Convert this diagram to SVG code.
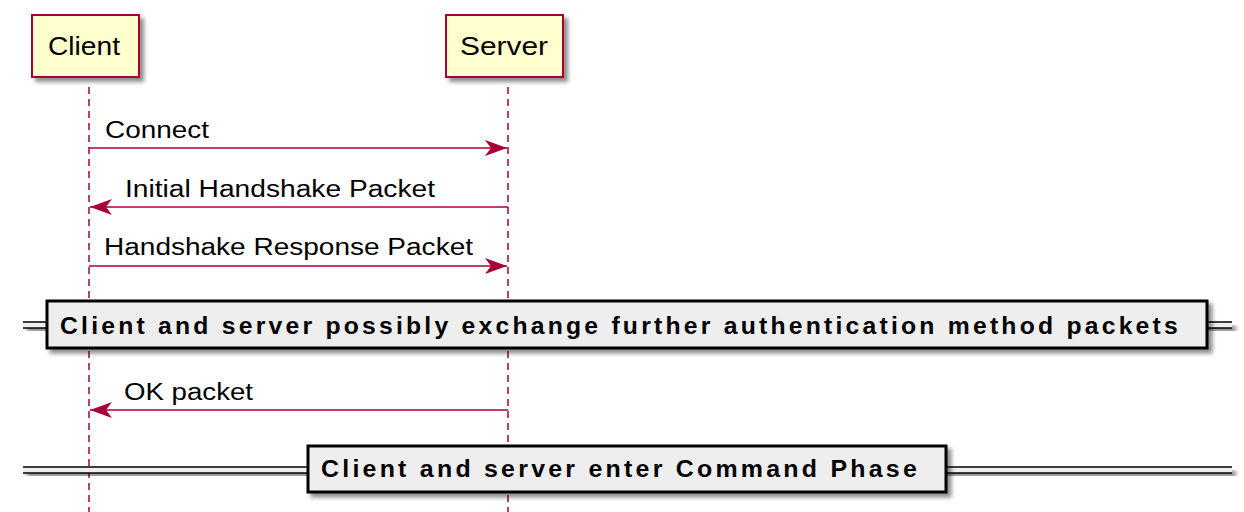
<svg xmlns="http://www.w3.org/2000/svg" width="1244" height="512" viewBox="0 0 1244 512">
<defs>
<filter id="sh" x="-10%" y="-10%" width="130%" height="160%">
<feGaussianBlur in="SourceAlpha" stdDeviation="2.2"/>
<feOffset dx="4" dy="4" result="b"/>
<feComponentTransfer><feFuncA type="linear" slope="0.45"/></feComponentTransfer>
<feMerge><feMergeNode/><feMergeNode in="SourceGraphic"/></feMerge>
</filter>
<marker id="ah" markerUnits="userSpaceOnUse" markerWidth="24" markerHeight="18" refX="22" refY="8" orient="auto">
<path d="M0,0 L22,8 L0,16 L6,8 Z" fill="#A80036"/>
</marker>
</defs>
<style>
.part{fill:#FEFECE;stroke:#A80036;stroke-width:2}
.ptxt{font-family:"Liberation Sans",Arial,sans-serif;font-size:26px;fill:#000}
.life{stroke:#A80036;stroke-width:1.5;stroke-dasharray:7,5;fill:none}
.msg{stroke:#A80036;stroke-width:1.6;fill:none;marker-end:url(#ah)}
.mtxt{font-family:"Liberation Sans",Arial,sans-serif;font-size:23px;fill:#000}
.dbox{fill:#EEEEEE;stroke:#000;stroke-width:3}
.dband{fill:#EEEEEE;stroke:none}
.dline{stroke:#000;stroke-width:1.6}
.dtxt{font-family:"Liberation Sans",Arial,sans-serif;font-size:23px;font-weight:bold;letter-spacing:3px;fill:#000}
</style>
<rect width="1244" height="512" fill="#FFFFFF"/>
<g id="lifelines">
<line class="life" x1="89" y1="87" x2="89" y2="512"/>
<line class="life" x1="508" y1="87" x2="508" y2="512"/>
</g>
<g id="client">
<rect class="part" x="32" y="15" width="107" height="62" filter="url(#sh)"/>
<text class="ptxt" x="48" y="55" textLength="72" lengthAdjust="spacingAndGlyphs">Client</text>
</g>
<g id="server">
<rect class="part" x="446" y="15" width="117" height="62" filter="url(#sh)"/>
<text class="ptxt" x="460" y="55" textLength="88" lengthAdjust="spacingAndGlyphs">Server</text>
</g>
<g id="connectors">
<line class="msg" x1="89" y1="148" x2="507" y2="148"/>
<text class="mtxt" x="105" y="138" textLength="104" lengthAdjust="spacingAndGlyphs">Connect</text>
<line class="msg" x1="508" y1="207" x2="90" y2="207"/>
<text class="mtxt" x="125" y="197" textLength="310" lengthAdjust="spacingAndGlyphs">Initial Handshake Packet</text>
<line class="msg" x1="89" y1="266" x2="507" y2="266"/>
<text class="mtxt" x="104" y="255" textLength="369" lengthAdjust="spacingAndGlyphs">Handshake Response Packet</text>
<line class="msg" x1="508" y1="410" x2="90" y2="410"/>
<text class="mtxt" x="124" y="400" textLength="129" lengthAdjust="spacingAndGlyphs">OK packet</text>
</g>
<g id="divider1">
<g filter="url(#sh)">
<rect class="dband" x="23" y="322" width="1209" height="6"/>
<line class="dline" x1="23" y1="322" x2="1232" y2="322"/>
<line class="dline" x1="23" y1="328" x2="1232" y2="328"/>
</g>
<rect class="dbox" x="47" y="301" width="1160" height="47" filter="url(#sh)"/>
<text class="dtxt" x="60" y="334" textLength="1121" lengthAdjust="spacingAndGlyphs">Client and server possibly exchange further authentication method packets</text>
</g>
<g id="divider2">
<g filter="url(#sh)">
<rect class="dband" x="23" y="467" width="1209" height="6"/>
<line class="dline" x1="23" y1="467" x2="1232" y2="467"/>
<line class="dline" x1="23" y1="473" x2="1232" y2="473"/>
</g>
<rect class="dbox" x="308" y="446" width="638" height="46" filter="url(#sh)"/>
<text class="dtxt" x="321" y="477" textLength="599" lengthAdjust="spacingAndGlyphs">Client and server enter Command Phase</text>
</g>
</svg>
